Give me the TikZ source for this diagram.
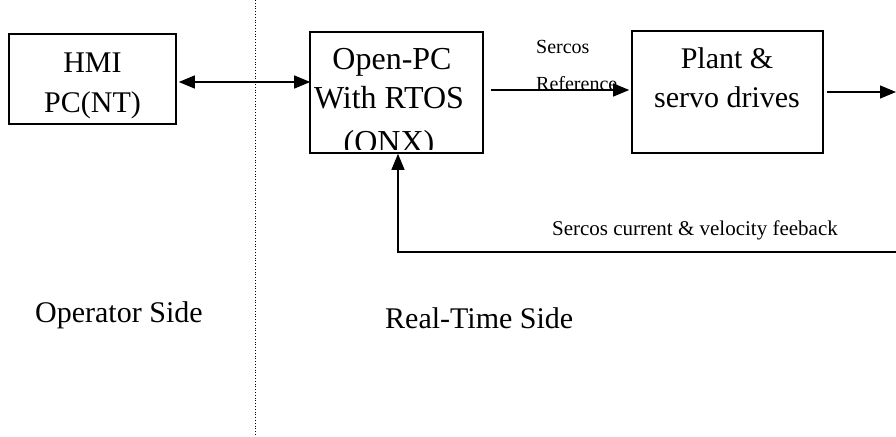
\documentclass[tikz,border=0pt]{standalone}
\usepackage{fontspec}
\setmainfont{Liberation Serif}
\usetikzlibrary{arrows.meta}
\begin{document}
\begin{tikzpicture}[x=1pt,y=-1pt,
  blockbox/.style={draw,line width=1.6pt,minimum width=#1,inner sep=0pt},
  bigtxt/.style={font=\fontsize{30}{36}\selectfont,anchor=base,inner sep=0pt},
  opctxt/.style={font=\fontsize{32}{38}\selectfont,anchor=base,inner sep=0pt},
  smalltxt/.style={font=\fontsize{20}{24}\selectfont,inner sep=0pt},
  fbtxt/.style={font=\fontsize{21}{24}\selectfont,inner sep=0pt},
  sidetxt/.style={font=\fontsize{30}{34}\selectfont,anchor=base west,inner sep=0pt},
  conn/.style={line width=1.2pt,-{Triangle[length=16pt,width=13pt]}},
  dconn/.style={line width=1.2pt,{Triangle[length=16pt,width=13pt]}-{Triangle[length=16pt,width=13pt]}}]
\useasboundingbox (0,0) rectangle (896,436);
% dotted separator
\coordinate (sepT) at (255,0);
\coordinate (sepB) at (255,436);
\draw[dotted,line width=0.8pt] (sepT) -- (sepB);
% boxes
\node[blockbox=167pt,minimum height=90pt] (hmi) at (92.5,79) {};
\node[blockbox=173pt,minimum height=121pt] (opc) at (396.5,92.5) {};
\node[blockbox=191pt,minimum height=122pt] (plant) at (727.5,92) {};
% box texts
\node[bigtxt] (hmi1) at (92.5,73) {HMI};
\node[bigtxt] (hmi2) at (92.5,112) {PC(NT)};
\node[opctxt] (opc1) at (392,70) {Open-PC};
\node[opctxt] (opc2) at (389,108) {With RTOS};
\begin{scope}
  \clip ([yshift=4pt]opc.south west) rectangle (opc.north east);
  \node[opctxt] (opc3) at (389,152) {(ONX)};
\end{scope}
\node[bigtxt] (pl1) at (727,68) {Plant \&};
\node[bigtxt] (pl2) at (727,107) {servo drives};
% connectors
\draw[dconn,shorten <=2pt,shorten >=-1pt] ([yshift=-3pt]hmi.east) -- ([yshift=-3pt]hmi.east -| opc.west);
\draw[conn,shorten <=7pt,shorten >=2pt] ([yshift=2.5pt]opc.east) -- ([yshift=2.5pt]opc.east -| plant.west);
\coordinate (outR) at (896,92);
\draw[conn,shorten <=3pt] (plant.east) -- (outR);
\coordinate (fbR) at (896,252);
\draw[conn] (fbR) -| ([xshift=1.5pt]opc.south);
% labels
\node[smalltxt,anchor=base west] (lsercos) at (536,53) {Sercos};
\node[smalltxt,anchor=base west] (lref) at (536,90) {Reference};
\node[fbtxt,anchor=base east] (lfb) at (838,235) {Sercos current \& velocity feeback};
\node[sidetxt] (lop) at (35,322) {Operator Side};
\node[sidetxt] (lrt) at (385,328) {Real-Time Side};
\end{tikzpicture}
\end{document}
